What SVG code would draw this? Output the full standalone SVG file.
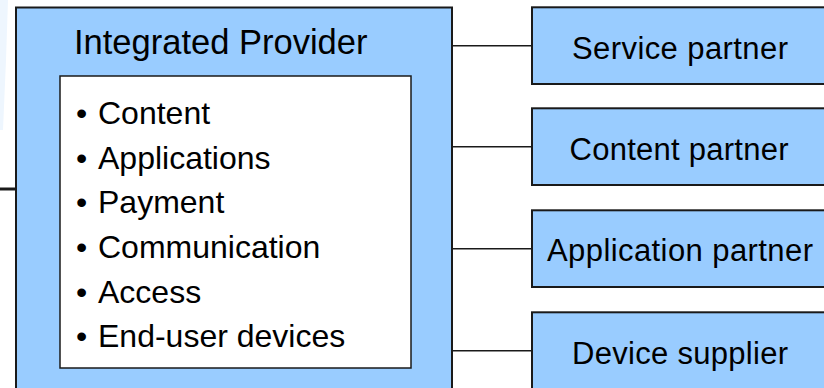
<svg xmlns="http://www.w3.org/2000/svg" width="824" height="388" viewBox="0 0 824 388">
<style>
.box{fill:#99ccff;stroke:#1a1a1a;stroke-width:2}
.inner{fill:#ffffff;stroke:#1a1a1a;stroke-width:1.5}
.conn{stroke:#1a1a1a;stroke-width:1.5;fill:none}
.t{font-family:"Liberation Sans",Arial,sans-serif;fill:#000}
.title{font-size:34.5px}
.item{font-size:32px}
.lbl{font-size:31px;text-anchor:middle}
</style>
<rect width="824" height="388" fill="#ffffff"/>
<polygon points="0,0 8,0 6,60 3,130 0,130" fill="#eef6fe"/>
<g id="connectors">
<line class="conn" x1="0" y1="189" x2="16" y2="189" style="stroke-width:3"/>
<line class="conn" x1="452" y1="45.7" x2="532" y2="45.7"/>
<line class="conn" x1="452" y1="146.7" x2="532" y2="146.7"/>
<line class="conn" x1="452" y1="248.7" x2="532" y2="248.7"/>
<line class="conn" x1="452" y1="350.7" x2="532" y2="350.7"/>
</g>
<g id="integrated-provider">
<rect class="box" x="16" y="7.5" width="436" height="395"/>
<text class="t title" x="74" y="53.5">Integrated Provider</text>
<rect class="inner" x="60" y="76" width="351" height="292"/>
<text class="t item" x="76" y="123.8">•<tspan x="98">Content</tspan></text>
<text class="t item" x="76" y="168.5">•<tspan x="98">Applications</tspan></text>
<text class="t item" x="76" y="213.2">•<tspan x="98">Payment</tspan></text>
<text class="t item" x="76" y="257.9">•<tspan x="98">Communication</tspan></text>
<text class="t item" x="76" y="302.6">•<tspan x="98">Access</tspan></text>
<text class="t item" x="76" y="347.3">•<tspan x="98">End-user devices</tspan></text>
</g>
<g id="service-partner">
<rect class="box" x="532" y="7.3" width="300" height="76.7"/>
<text class="t lbl" x="680" y="58.5" textLength="216" lengthAdjust="spacing">Service partner</text>
</g>
<g id="content-partner">
<rect class="box" x="532" y="108.3" width="300" height="76.7"/>
<text class="t lbl" x="679" y="159.7" textLength="219" lengthAdjust="spacing">Content partner</text>
</g>
<g id="application-partner">
<rect class="box" x="532" y="210.3" width="300" height="76.7"/>
<text class="t lbl" x="680" y="261.2" textLength="266" lengthAdjust="spacing">Application partner</text>
</g>
<g id="device-supplier">
<rect class="box" x="532" y="312.3" width="300" height="90"/>
<text class="t lbl" x="680" y="363.5" textLength="216" lengthAdjust="spacing">Device supplier</text>
</g>
</svg>
